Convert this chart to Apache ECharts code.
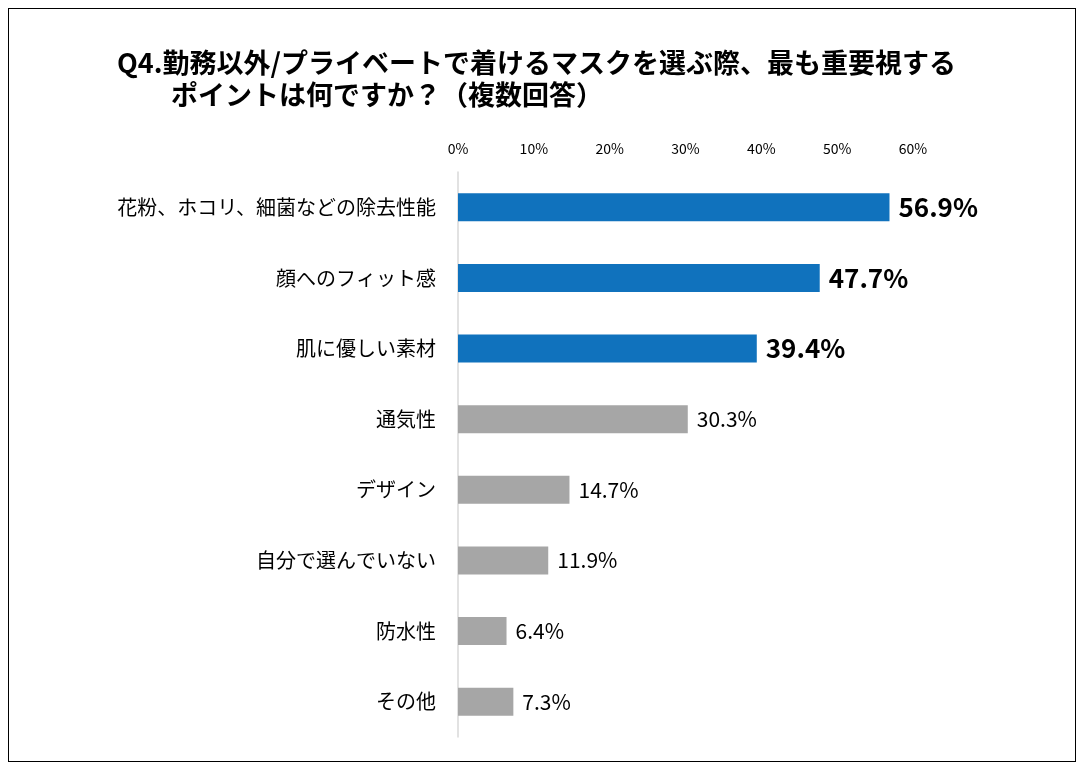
<!DOCTYPE html>
<html>
<head>
<meta charset="utf-8">
<script src="https://cdn.jsdelivr.net/npm/echarts@6/dist/echarts.min.js"></script>
<style>
html, body { margin: 0; padding: 0; background: #fff; }
#frame { position: absolute; left: 8px; top: 8px; width: 1068px; height: 754px; border: 1.5px solid #000; box-sizing: border-box; }
#chart { width: 1086px; height: 772px; }
</style>
</head>
<body>
<div id="frame"></div>
<div id="chart"></div>
<script>
var categories = ['花粉、ホコリ、細菌などの除去性能', '顔へのフィット感', '肌に優しい素材', '通気性', 'デザイン', '自分で選んでいない', '防水性', 'その他'];
var values = [56.9, 47.7, 39.4, 30.3, 14.7, 11.9, 6.4, 7.3];
var highlighted = [true, true, true, false, false, false, false, false];

var font = '"Noto Sans CJK JP", "Noto Sans", sans-serif';
var chart = echarts.init(document.getElementById('chart'));

var data = values.map(function (v, i) {
    var hi = highlighted[i];
    return {
        value: v,
        itemStyle: { color: hi ? '#1072BD' : '#A6A6A6' },
        label: {
            fontSize: hi ? 26 : 21,
            fontWeight: hi ? 'bold' : 'normal'
        }
    };
});

chart.setOption({
    animation: false,
    title: {
        text: 'Q4.勤務以外/プライベートで着けるマスクを選ぶ際、最も重要視する\n　　ポイントは何ですか？（複数回答）',
        left: 112,
        top: 42,
        textStyle: { fontFamily: font, fontSize: 27, fontWeight: 'bold', color: '#000', lineHeight: 32 }
    },
    grid: { left: 458, right: 173, top: 172, bottom: 35 },
    xAxis: {
        type: 'value',
        position: 'top',
        min: 0,
        max: 60,
        interval: 10,
        axisLabel: { formatter: '{value}%', fontFamily: font, fontSize: 14, color: '#000', margin: 16 },
        axisLine: { show: false },
        axisTick: { show: false },
        splitLine: { show: false }
    },
    yAxis: {
        type: 'category',
        inverse: true,
        data: categories,
        axisLine: { show: true, lineStyle: { color: '#D9D9D9', width: 1.5 } },
        axisTick: { show: false },
        axisLabel: { fontFamily: font, fontSize: 20, color: '#000', margin: 22 }
    },
    series: [{
        type: 'bar',
        data: data,
        barWidth: 28,
        label: {
            show: true,
            position: 'right',
            distance: 9,
            formatter: function (p) { return p.value.toFixed(1) + '%'; },
            fontFamily: font,
            color: '#000'
        }
    }]
});
</script>
</body>
</html>
